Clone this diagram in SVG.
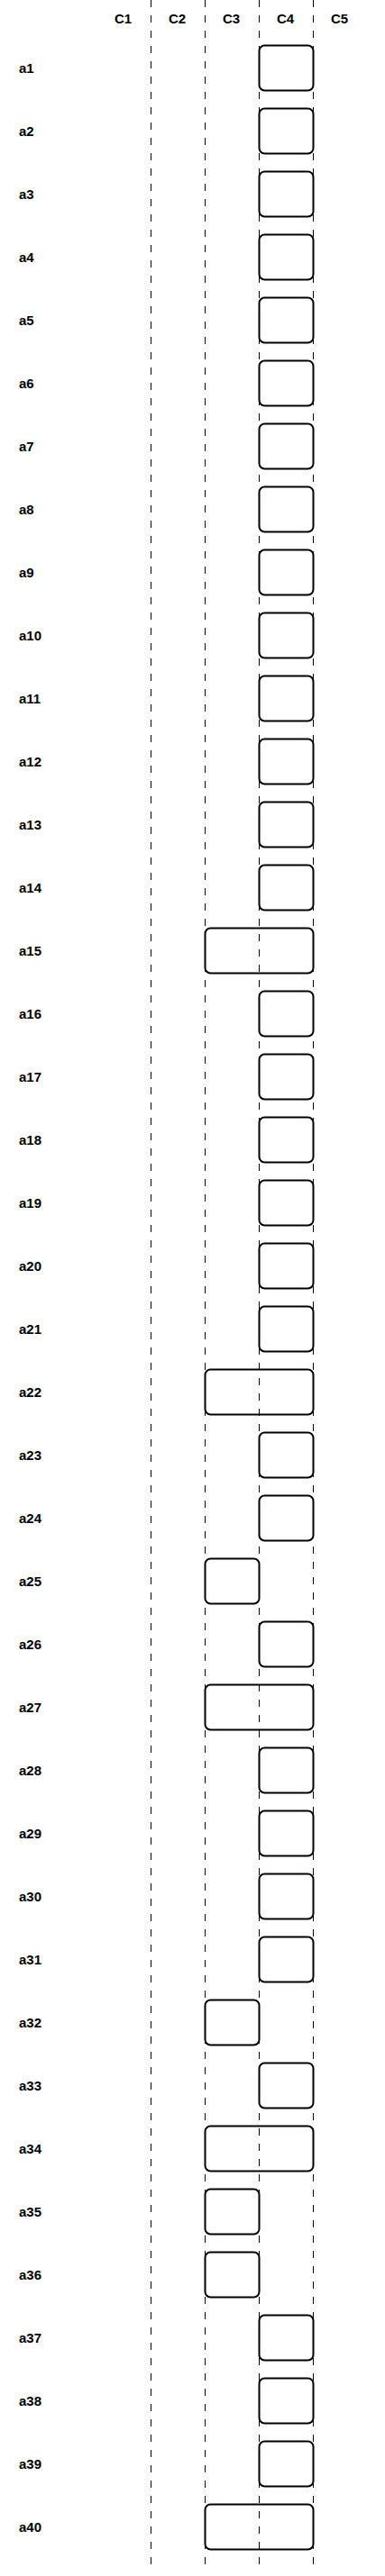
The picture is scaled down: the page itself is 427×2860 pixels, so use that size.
<svg xmlns="http://www.w3.org/2000/svg" width="427" height="2860" viewBox="0 0 427 2860">
<style>
text{font-family:"Liberation Sans",Arial,sans-serif;font-weight:bold;font-size:15px;fill:#000}
.h{text-anchor:middle}
.lane{stroke:#000;stroke-width:1;stroke-dasharray:8 9;fill:none}
.b{fill:#fff;stroke:#000;stroke-width:2}
</style>
<rect width="427" height="2860" fill="#fff"/>
<g id="lanes">
<line class="lane" x1="167.5" y1="0" x2="167.5" y2="2855"/>
<line class="lane" x1="227.5" y1="0" x2="227.5" y2="2855"/>
<line class="lane" x1="287.5" y1="0" x2="287.5" y2="2855"/>
<line class="lane" x1="347.5" y1="0" x2="347.5" y2="2855"/>
</g>
<g id="header">
<text class="h" x="136.5" y="26">C1</text>
<text class="h" x="196.5" y="26">C2</text>
<text class="h" x="256.5" y="26">C3</text>
<text class="h" x="316.5" y="26">C4</text>
<text class="h" x="376.5" y="26">C5</text>
</g>
<g id="labels">
<text x="21" y="81">a1</text>
<text x="21" y="151">a2</text>
<text x="21" y="221">a3</text>
<text x="21" y="291">a4</text>
<text x="21" y="361">a5</text>
<text x="21" y="431">a6</text>
<text x="21" y="501">a7</text>
<text x="21" y="571">a8</text>
<text x="21" y="641">a9</text>
<text x="21" y="711">a10</text>
<text x="21" y="781">a11</text>
<text x="21" y="851">a12</text>
<text x="21" y="921">a13</text>
<text x="21" y="991">a14</text>
<text x="21" y="1061">a15</text>
<text x="21" y="1131">a16</text>
<text x="21" y="1201">a17</text>
<text x="21" y="1271">a18</text>
<text x="21" y="1341">a19</text>
<text x="21" y="1411">a20</text>
<text x="21" y="1481">a21</text>
<text x="21" y="1551">a22</text>
<text x="21" y="1621">a23</text>
<text x="21" y="1691">a24</text>
<text x="21" y="1761">a25</text>
<text x="21" y="1831">a26</text>
<text x="21" y="1901">a27</text>
<text x="21" y="1971">a28</text>
<text x="21" y="2041">a29</text>
<text x="21" y="2111">a30</text>
<text x="21" y="2181">a31</text>
<text x="21" y="2251">a32</text>
<text x="21" y="2321">a33</text>
<text x="21" y="2391">a34</text>
<text x="21" y="2461">a35</text>
<text x="21" y="2531">a36</text>
<text x="21" y="2601">a37</text>
<text x="21" y="2671">a38</text>
<text x="21" y="2741">a39</text>
<text x="21" y="2811">a40</text>
</g>
<g id="boxes">
<rect id="b1" class="b" x="287.5" y="50.5" width="60" height="50" rx="6"/>
<rect id="b2" class="b" x="287.5" y="120.5" width="60" height="50" rx="6"/>
<rect id="b3" class="b" x="287.5" y="190.5" width="60" height="50" rx="6"/>
<rect id="b4" class="b" x="287.5" y="260.5" width="60" height="50" rx="6"/>
<rect id="b5" class="b" x="287.5" y="330.5" width="60" height="50" rx="6"/>
<rect id="b6" class="b" x="287.5" y="400.5" width="60" height="50" rx="6"/>
<rect id="b7" class="b" x="287.5" y="470.5" width="60" height="50" rx="6"/>
<rect id="b8" class="b" x="287.5" y="540.5" width="60" height="50" rx="6"/>
<rect id="b9" class="b" x="287.5" y="610.5" width="60" height="50" rx="6"/>
<rect id="b10" class="b" x="287.5" y="680.5" width="60" height="50" rx="6"/>
<rect id="b11" class="b" x="287.5" y="750.5" width="60" height="50" rx="6"/>
<rect id="b12" class="b" x="287.5" y="820.5" width="60" height="50" rx="6"/>
<rect id="b13" class="b" x="287.5" y="890.5" width="60" height="50" rx="6"/>
<rect id="b14" class="b" x="287.5" y="960.5" width="60" height="50" rx="6"/>
<rect id="b15" class="b" x="227.5" y="1030.5" width="120" height="50" rx="6" fill-opacity="0"/>
<rect id="b16" class="b" x="287.5" y="1100.5" width="60" height="50" rx="6"/>
<rect id="b17" class="b" x="287.5" y="1170.5" width="60" height="50" rx="6"/>
<rect id="b18" class="b" x="287.5" y="1240.5" width="60" height="50" rx="6"/>
<rect id="b19" class="b" x="287.5" y="1310.5" width="60" height="50" rx="6"/>
<rect id="b20" class="b" x="287.5" y="1380.5" width="60" height="50" rx="6"/>
<rect id="b21" class="b" x="287.5" y="1450.5" width="60" height="50" rx="6"/>
<rect id="b22" class="b" x="227.5" y="1520.5" width="120" height="50" rx="6" fill-opacity="0"/>
<rect id="b23" class="b" x="287.5" y="1590.5" width="60" height="50" rx="6"/>
<rect id="b24" class="b" x="287.5" y="1660.5" width="60" height="50" rx="6"/>
<rect id="b25" class="b" x="227.5" y="1730.5" width="60" height="50" rx="6"/>
<rect id="b26" class="b" x="287.5" y="1800.5" width="60" height="50" rx="6"/>
<rect id="b27" class="b" x="227.5" y="1870.5" width="120" height="50" rx="6" fill-opacity="0"/>
<rect id="b28" class="b" x="287.5" y="1940.5" width="60" height="50" rx="6"/>
<rect id="b29" class="b" x="287.5" y="2010.5" width="60" height="50" rx="6"/>
<rect id="b30" class="b" x="287.5" y="2080.5" width="60" height="50" rx="6"/>
<rect id="b31" class="b" x="287.5" y="2150.5" width="60" height="50" rx="6"/>
<rect id="b32" class="b" x="227.5" y="2220.5" width="60" height="50" rx="6"/>
<rect id="b33" class="b" x="287.5" y="2290.5" width="60" height="50" rx="6"/>
<rect id="b34" class="b" x="227.5" y="2360.5" width="120" height="50" rx="6" fill-opacity="0"/>
<rect id="b35" class="b" x="227.5" y="2430.5" width="60" height="50" rx="6"/>
<rect id="b36" class="b" x="227.5" y="2500.5" width="60" height="50" rx="6"/>
<rect id="b37" class="b" x="287.5" y="2570.5" width="60" height="50" rx="6"/>
<rect id="b38" class="b" x="287.5" y="2640.5" width="60" height="50" rx="6"/>
<rect id="b39" class="b" x="287.5" y="2710.5" width="60" height="50" rx="6"/>
<rect id="b40" class="b" x="227.5" y="2780.5" width="120" height="50" rx="6" fill-opacity="0"/>
</g>
</svg>
